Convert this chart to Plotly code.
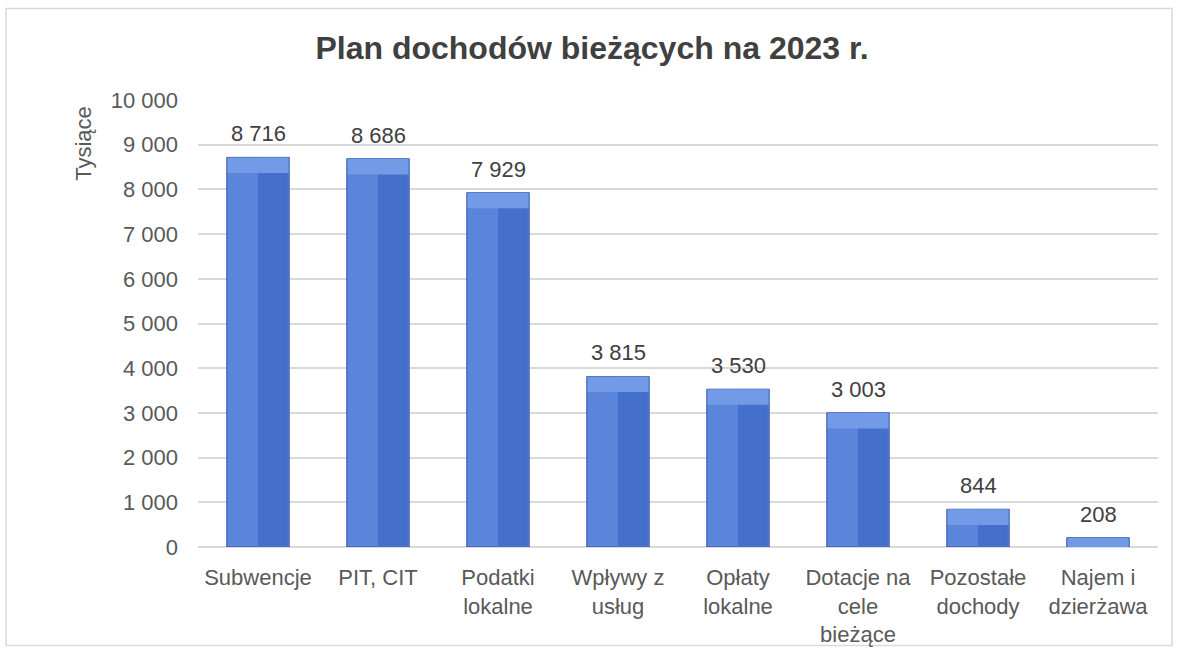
import plotly.graph_objects as go

categories = ["Subwencje", "PIT, CIT", "Podatki<br>lokalne", "Wpływy z<br>usług",
              "Opłaty<br>lokalne", "Dotacje na<br>cele<br>bieżące", "Pozostałe<br>dochody",
              "Najem i<br>dzierżawa"]
values = [8716, 8686, 7929, 3815, 3530, 3003, 844, 208]
labels = ["8 716", "8 686", "7 929", "3 815", "3 530", "3 003", "844", "208"]

FONT = "Liberation Sans, Arial, sans-serif"
BAR_W = 0.52
TOP_H = 350

fig = go.Figure()
# main bar (left, lighter face)
fig.add_trace(go.Bar(
    x=categories, y=values, width=BAR_W,
    marker=dict(color="#5a85da", line=dict(color="#2f56a8", width=1)),
    hoverinfo="skip"))
# right darker half
fig.add_trace(go.Bar(
    x=categories, y=values, width=BAR_W / 2 - 0.012, offset=0,
    marker=dict(color="#4470cb", line=dict(width=0)),
    hoverinfo="skip"))
# top bevel (lighter)
top_base = [max(0, v - TOP_H) for v in values]
top_h = [v - b for v, b in zip(values, top_base)]
fig.add_trace(go.Bar(
    x=categories, y=top_h, base=top_base, width=BAR_W - 0.012,
    marker=dict(color="#739ae6", line=dict(width=0)),
    hoverinfo="skip"))

annotations = [dict(x=c, y=v, text=t, xref="x", yref="y", showarrow=False,
                    xanchor="center", yanchor="bottom", yshift=9,
                    font=dict(family=FONT, size=22, color="#404040"))
               for c, v, t in zip(categories, values, labels)]
annotations.append(dict(text="Tysiące", xref="paper", yref="paper",
                        x=-114 / 960, y=1 - 44 / 449, textangle=-90,
                        showarrow=False, xanchor="center", yanchor="middle",
                        font=dict(family=FONT, size=22, color="#595959")))

fig.update_layout(
    width=1184, height=659,
    barmode="overlay",
    showlegend=False,
    paper_bgcolor="white", plot_bgcolor="white",
    margin=dict(l=198, r=26, t=100, b=110),
    separators=", ",
    font=dict(family=FONT, color="#595959", size=22),
    title=dict(text="<b>Plan dochodów bieżących na 2023 r.</b>",
               x=0.5, xref="container", xanchor="center",
               y=1 - 48 / 659, yref="container", yanchor="middle",
               font=dict(family=FONT, size=32, color="#404040")),
    xaxis=dict(showgrid=False, showline=False, ticks="",
               tickfont=dict(family=FONT, size=22, color="#595959"),
               ticklabelstandoff=15),
    yaxis=dict(range=[0, 10000], dtick=1000, tickformat=",d",
               showgrid=True, gridcolor="#d9d9d9", gridwidth=1.5,
               zeroline=True, zerolinecolor="#d9d9d9", zerolinewidth=1.5,
               ticks="", tickfont=dict(family=FONT, size=22, color="#595959"),
               ticklabelstandoff=19),
    shapes=[dict(type="rect", xref="paper", yref="paper",
                 x0=-192 / 960, x1=1 + 14 / 960,
                 y0=-99 / 449, y1=1 + 92 / 449,
                 line=dict(color="#d9d9d9", width=1.5), fillcolor="rgba(0,0,0,0)",
                 layer="below")],
    annotations=annotations,
)

fig.write_html("out.html", config={"displayModeBar": False},
               post_script="document.body.style.margin='0';document.body.style.overflow='hidden';")
